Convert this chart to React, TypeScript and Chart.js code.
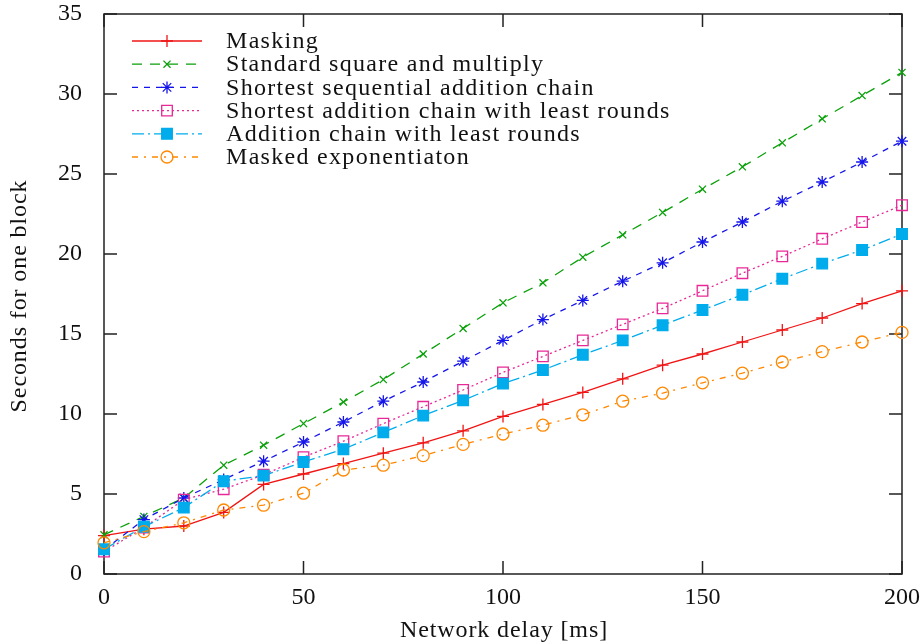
import React, { useEffect, useRef } from "react";
import { Chart, registerables } from "chart.js";
import { drawPoint } from "chart.js/helpers";

Chart.register(...registerables);

const delays = [0, 10, 20, 30, 40, 50, 60, 70, 80, 90, 100, 110, 120, 130, 140, 150, 160, 170, 180, 190, 200];

const masking = [2.4, 2.8, 3.0, 3.85, 5.6, 6.25, 6.9, 7.55, 8.2, 8.95, 9.85, 10.6, 11.35, 12.2, 13.05, 13.75, 14.5, 15.25, 16.0, 16.9, 17.7];
const standardSquare = [2.45, 3.6, 4.75, 6.8, 8.05, 9.4, 10.75, 12.15, 13.75, 15.35, 16.95, 18.2, 19.8, 21.2, 22.6, 24.05, 25.45, 26.95, 28.45, 29.9, 31.35];
const shortestSequential = [1.5, 3.4, 4.75, 5.9, 7.05, 8.25, 9.5, 10.8, 12.0, 13.3, 14.6, 15.9, 17.1, 18.3, 19.45, 20.75, 22.0, 23.3, 24.5, 25.75, 27.05];
const shortestLeastRounds = [1.4, 2.9, 4.65, 5.3, 6.2, 7.3, 8.3, 9.4, 10.45, 11.5, 12.6, 13.6, 14.6, 15.6, 16.6, 17.7, 18.8, 19.85, 20.95, 22.0, 23.05];
const additionLeastRounds = [1.55, 2.95, 4.15, 5.8, 6.15, 7.0, 7.8, 8.85, 9.9, 10.85, 11.9, 12.75, 13.7, 14.6, 15.55, 16.5, 17.45, 18.45, 19.4, 20.25, 21.25];
const maskedExp = [1.95, 2.65, 3.2, 4.0, 4.3, 5.05, 6.5, 6.8, 7.4, 8.1, 8.75, 9.3, 9.95, 10.8, 11.3, 11.95, 12.55, 13.25, 13.9, 14.5, 15.1];

const seriesLabels = [
  "Masking",
  "Standard square and multiply",
  "Shortest sequential addition chain",
  "Shortest addition chain with least rounds",
  "Addition chain with least rounds",
  "Masked exponentiaton",
];

const xTitle = "Network delay [ms]";
const yTitle = "Seconds for one block";

const xTicks = [0, 50, 100, 150, 200];
const yTicks = [0, 5, 10, 15, 20, 25, 30, 35];

const FONT = "'Liberation Serif', 'DejaVu Serif', serif";

type Style = {
  color: string;
  dash: number[];
  point: string;
  radius: number;
  fill: string;
};

const styles: Style[] = [
  { color: "rgb(240,20,20)", dash: [], point: "cross", radius: 6, fill: "transparent" },
  { color: "rgb(10,160,10)", dash: [10, 8], point: "crossRot", radius: 5, fill: "transparent" },
  { color: "rgb(20,20,235)", dash: [6, 6], point: "star", radius: 6, fill: "transparent" },
  { color: "rgb(232,40,150)", dash: [2, 3], point: "rect", radius: 7.5, fill: "transparent" },
  { color: "rgb(0,172,235)", dash: [12, 4, 2, 4], point: "rect", radius: 7.5, fill: "rgb(0,172,235)" },
  { color: "rgb(255,136,0)", dash: [6, 6, 2, 6], point: "circle", radius: 6, fill: "transparent" },
];

const allSeries = [masking, standardSquare, shortestSequential, shortestLeastRounds, additionLeastRounds, maskedExp];

const framePlugin = {
  id: "gnuFrame",
  beforeDatasetsDraw(chart: any) {
    const { ctx, chartArea, scales } = chart;
    const { left, right, top, bottom } = chartArea;
    ctx.save();
    ctx.strokeStyle = "#222";
    ctx.lineWidth = 1.5;
    ctx.setLineDash([]);
    ctx.beginPath();
    ctx.rect(left, top, right - left, bottom - top);
    ctx.stroke();
    const tl = 13;
    ctx.beginPath();
    for (const v of xTicks) {
      const x = scales.x.getPixelForValue(v);
      ctx.moveTo(x, bottom);
      ctx.lineTo(x, bottom - tl);
      ctx.moveTo(x, top);
      ctx.lineTo(x, top + tl);
    }
    for (const v of yTicks) {
      const y = scales.y.getPixelForValue(v);
      ctx.moveTo(left, y);
      ctx.lineTo(left + tl, y);
      ctx.moveTo(right, y);
      ctx.lineTo(right - tl, y);
    }
    ctx.stroke();

    // axis titles
    ctx.fillStyle = "#111";
    ctx.font = `24px ${FONT}`;
    (ctx as any).letterSpacing = "0.9px";
    ctx.textAlign = "center";
    ctx.textBaseline = "middle";
    ctx.fillText(xTitle, (left + right) / 2 + 1, 631);
    ctx.save();
    ctx.translate(20, (top + bottom) / 2 + 2);
    ctx.rotate(-Math.PI / 2);
    ctx.fillText(yTitle, 0, 0);
    ctx.restore();
    (ctx as any).letterSpacing = "0px";
    ctx.restore();
  },
};

const legendPlugin = {
  id: "gnuLegend",
  afterDatasetsDraw(chart: any) {
    const { ctx } = chart;
    ctx.save();
    const x0 = 132;
    const x1 = 202;
    const xm = 167;
    const textX = 226;
    const y0 = 41;
    const dy = 23.2;
    seriesLabels.forEach((label, i) => {
      const s = styles[i];
      const y = y0 + i * dy;
      ctx.strokeStyle = s.color;
      ctx.lineWidth = 1.3;
      ctx.setLineDash(s.dash);
      ctx.beginPath();
      ctx.moveTo(x0, y);
      ctx.lineTo(x1, y);
      ctx.stroke();
      ctx.setLineDash([]);
      ctx.fillStyle = s.fill;
      drawPoint(ctx, { pointStyle: s.point, radius: s.radius, borderWidth: 1.3, rotation: 0 } as any, xm, y);
      ctx.fillStyle = "#111";
      ctx.font = `24px ${FONT}`;
      (ctx as any).letterSpacing = "1.3px";
      ctx.textAlign = "left";
      ctx.textBaseline = "middle";
      ctx.fillText(label, textX, y + 1);
      (ctx as any).letterSpacing = "0px";
    });
    ctx.restore();
  },
};

export default function App() {
  const ref = useRef<HTMLCanvasElement | null>(null);

  useEffect(() => {
    if (!ref.current) return;
    const datasets = allSeries.map((vals, i) => {
      const s = styles[i];
      return {
        label: seriesLabels[i],
        data: delays.map((d, j) => ({ x: d, y: vals[j] })),
        borderColor: s.color,
        backgroundColor: s.fill,
        borderWidth: 1.3,
        borderDash: s.dash,
        pointStyle: s.point,
        pointRadius: s.radius,
        pointBorderWidth: 1.3,
        pointBorderColor: s.color,
        pointBackgroundColor: s.fill,
        fill: false,
        tension: 0,
        clip: false as any,
        order: 6 - i,
      };
    });
    const chart = new Chart(ref.current, {
      type: "line",
      data: { datasets },
      plugins: [framePlugin, legendPlugin],
      options: {
        animation: false,
        responsive: false,
        devicePixelRatio: 1,
        layout: { autoPadding: false, padding: { top: 14, right: 18, left: 0, bottom: 0 } },
        plugins: { legend: { display: false }, tooltip: { enabled: false } },
        scales: {
          x: {
            type: "linear",
            min: 0,
            max: 200,
            afterFit: (scale: any) => {
              scale.height = 70;
              scale.paddingLeft = 0;
              scale.paddingRight = 0;
            },
            afterBuildTicks: (scale: any) => {
              scale.ticks = xTicks.map((v) => ({ value: v }));
            },
            grid: { display: false, drawTicks: false },
            border: { display: false },
            ticks: {
              color: "#111",
              font: { family: FONT, size: 24 },
              padding: 9,
              maxRotation: 0,
            },
            title: { display: false },
          },
          y: {
            type: "linear",
            min: 0,
            max: 35,
            afterFit: (scale: any) => {
              scale.width = 104;
              scale.paddingTop = 0;
              scale.paddingBottom = 0;
            },
            afterBuildTicks: (scale: any) => {
              scale.ticks = yTicks.map((v) => ({ value: v }));
            },
            grid: { display: false, drawTicks: false },
            border: { display: false },
            ticks: {
              color: "#111",
              font: { family: FONT, size: 24 },
              padding: 22,
            },
            title: { display: false },
          },
        },
      },
    });
    return () => chart.destroy();
  }, []);

  return (
    <div style={{ position: "fixed", left: 0, top: 0, width: 920, height: 644, background: "#fff" }}>
      <canvas ref={ref} width={920} height={644} style={{ display: "block", width: 920, height: 644 }} />
    </div>
  );
}
